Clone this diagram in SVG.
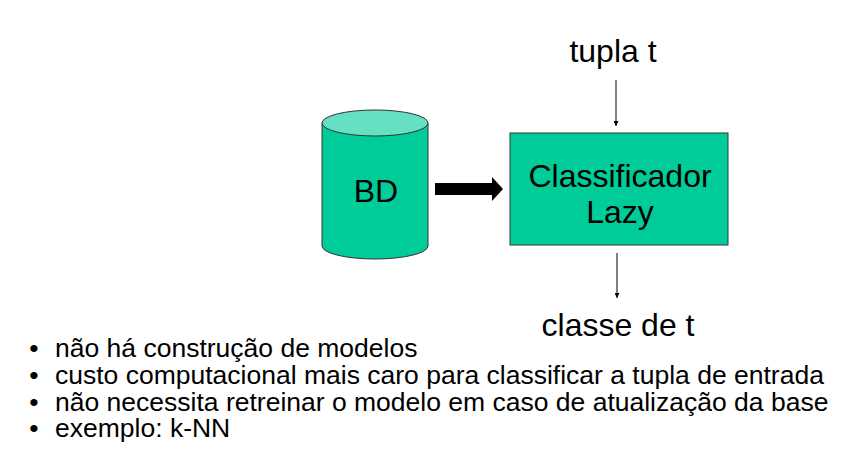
<svg xmlns="http://www.w3.org/2000/svg" width="842" height="466" viewBox="0 0 842 466">
<style>
text{font-family:"Liberation Sans",Arial,sans-serif;fill:#000}
.lbl{font-size:32px;text-anchor:middle}
.bul{font-size:26.5px}
.dot{text-anchor:middle}
.thin{stroke:#000;stroke-width:1;fill:none}
</style>
<defs>
<marker id="ah" viewBox="0 0 10 10" refX="10" refY="5" markerWidth="5" markerHeight="5" markerUnits="userSpaceOnUse" orient="auto"><path d="M0,0L10,5L0,10z" fill="#000"/></marker>
</defs>
<rect width="842" height="466" fill="#fff"/>
<g id="bd">
<path d="M322,123 V246 A53,13 0 0 0 428,246 V123 Z" fill="#00CC99" stroke="#333" stroke-width="1"/>
<ellipse cx="375" cy="123" rx="53" ry="13" fill="#66E0C2" stroke="#333" stroke-width="1"/>
<text class="lbl" x="376" y="202">BD</text>
</g>
<g id="classificador">
<rect x="510" y="133" width="218" height="112" fill="#00CC99" stroke="#333" stroke-width="1"/>
<text class="lbl" x="620" y="187">Classificador</text>
<text class="lbl" x="620" y="223">Lazy</text>
</g>
<g id="tupla"><text class="lbl" x="613" y="62">tupla t</text></g>
<g id="classe"><text class="lbl" x="618" y="336">classe de t</text></g>
<g id="connectors">
<path d="M435,183 H492 V177 L503,189 L492,201 V195 H435 Z" fill="#000"/>
<line class="thin" x1="616" y1="80" x2="616" y2="126" marker-end="url(#ah)"/>
<line class="thin" x1="617" y1="253" x2="617" y2="298" marker-end="url(#ah)"/>
</g>
<g id="bullets" class="bul">
<text class="dot" x="34" y="357">•</text><text x="55" y="357">não há construção de modelos</text>
<text class="dot" x="34" y="384">•</text><text x="55" y="384">custo computacional mais caro para classificar a tupla de entrada</text>
<text class="dot" x="34" y="411">•</text><text x="55" y="411">não necessita retreinar o modelo em caso de atualização da base</text>
<text class="dot" x="34" y="437">•</text><text x="55" y="437">exemplo: k-NN</text>
</g>
</svg>
